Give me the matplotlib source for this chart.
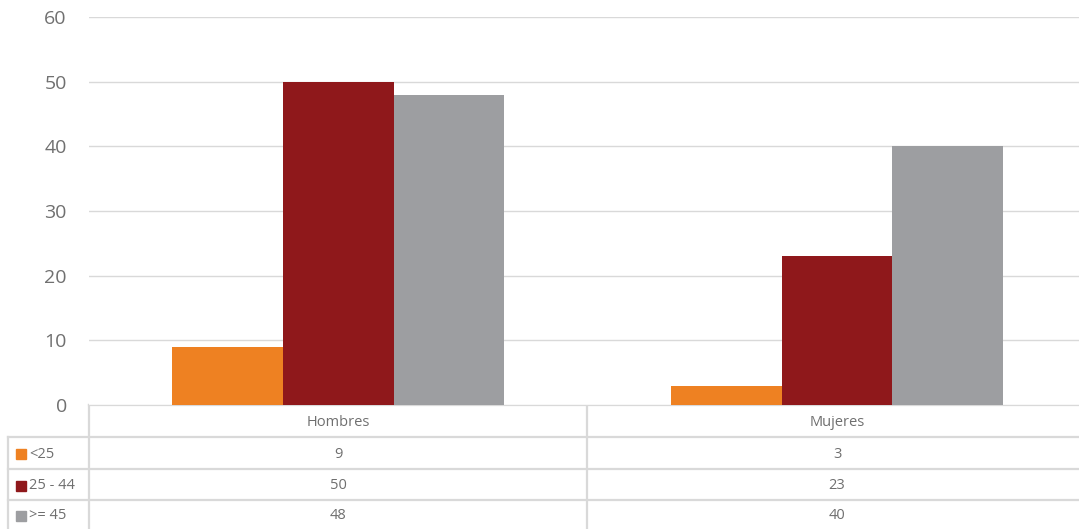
import matplotlib
matplotlib.use('Agg')
import matplotlib.pyplot as plt
import matplotlib.transforms as mtransforms
import numpy as np

plt.rcParams['font.family'] = ['Open Sans', 'DejaVu Sans']

categories = ['Hombres', 'Mujeres']
series = ['<25', '25 - 44', '>= 45']
values = [[9, 3], [50, 23], [48, 40]]
colors = ['#EE8122', '#8F181B', '#9D9EA1']
yticks = [0, 10, 20, 30, 40, 50, 60]

W, H = 1079, 529
fig = plt.figure(figsize=(W / 100, H / 100), dpi=100)

# main plot area in pixels
left, right, top, bottom = 89, 1079, 17, 405
ax = fig.add_axes([left / W, (H - bottom) / H, (right - left) / W, (bottom - top) / H])

x = np.arange(len(categories))
bw = 0.222
for i, s in enumerate(series):
    ax.bar(x + (i - 1) * bw, values[i], width=bw, color=colors[i], zorder=3)

ax.set_ylim(0, 60)
ax.set_xlim(-0.5, 1.485)
ax.set_yticks(yticks)
ax.set_xticks([])
ax.grid(axis='y', color='#d9d9d9', linewidth=1.0, zorder=0)
for sp in ax.spines.values():
    sp.set_visible(False)
ax.tick_params(axis='y', length=0, pad=16, labelsize=14, labelcolor='#707070')

# data table below the chart
tab = fig.add_axes([0, 0, 1, 1], zorder=-1)
tab.set_xlim(0, W)
tab.set_ylim(H, 0)
tab.axis('off')
lc = '#d9d9d9'
lw = 1.6
rows = [405, 437, 469, 500, 529]
col_div = 587
tab.plot([left, W], [rows[0], rows[0]], color=lc, lw=lw)
for r in rows[1:4]:
    tab.plot([8, W], [r, r], color=lc, lw=lw)
tab.plot([8, 8], [rows[1], H], color=lc, lw=lw)
tab.plot([left, left], [rows[0], H], color=lc, lw=lw)
tab.plot([col_div, col_div], [rows[0], H], color=lc, lw=lw)

bt = mtransforms.blended_transform_factory(ax.transData, tab.transData)
tcol = '#6f6f6f'
fs = 10.5
for j, c in enumerate(categories):
    tab.text(j, (rows[0] + rows[1]) / 2 + 1, c, transform=bt, ha='center', va='center',
             fontsize=fs, color=tcol)
for i, s in enumerate(series):
    yc = (rows[i + 1] + rows[i + 2]) / 2 + 1
    tab.add_patch(plt.Rectangle((16, yc - 5), 10, 10, color=colors[i]))
    tab.text(29, yc, s, ha='left', va='center', fontsize=fs, color=tcol)
    for j in range(len(categories)):
        tab.text(j, yc, str(values[i][j]), transform=bt, ha='center', va='center',
                 fontsize=fs, color=tcol)

fig.savefig('out.png', dpi=100)
